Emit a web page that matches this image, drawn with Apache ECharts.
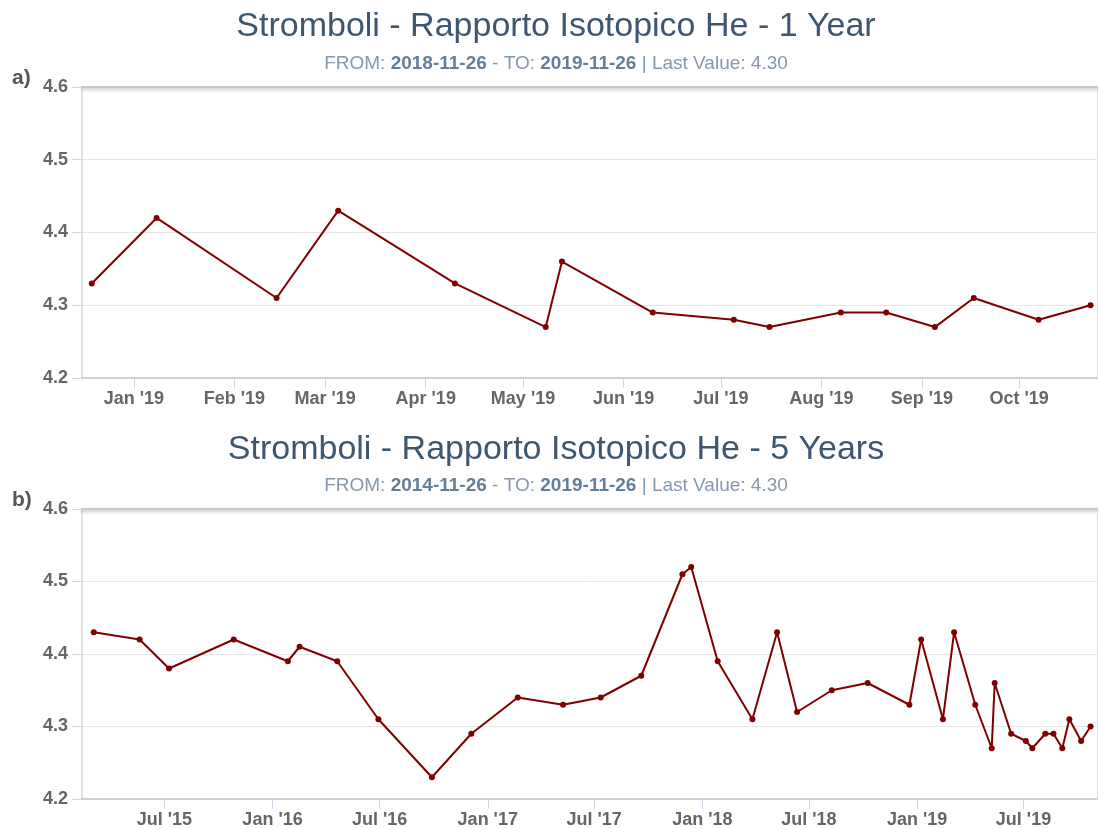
<!DOCTYPE html>
<html>
<head>
<meta charset="utf-8">
<title>Stromboli - Rapporto Isotopico He</title>
<script src="https://cdn.jsdelivr.net/npm/echarts@6/dist/echarts.min.js"></script>
<style>
    html, body { margin: 0; padding: 0; background: #fff; }
    #chart { width: 1099px; height: 829px; }
</style>
</head>
<body>
<div id="chart"></div>
<script>
// Sample dates and He isotope ratio values
var sampleDates = [
    '2015-03-03', '2015-05-20', '2015-07-09', '2015-10-27', '2016-01-27', '2016-02-16',
    '2016-04-20', '2016-06-29', '2016-09-28', '2016-12-04', '2017-02-21', '2017-05-09',
    '2017-07-12', '2017-09-19', '2017-11-28', '2017-12-13', '2018-01-27', '2018-03-27',
    '2018-05-08', '2018-06-11', '2018-08-09', '2018-10-09', '2018-12-19', '2019-01-08',
    '2019-02-14', '2019-03-05', '2019-04-10', '2019-05-08', '2019-05-13', '2019-06-10',
    '2019-07-05', '2019-07-16', '2019-08-07', '2019-08-21', '2019-09-05', '2019-09-17',
    '2019-10-07', '2019-10-23'
];
var heRatio = [
    4.43, 4.42, 4.38, 4.42, 4.39, 4.41,
    4.39, 4.31, 4.23, 4.29, 4.34, 4.33,
    4.34, 4.37, 4.51, 4.52, 4.39, 4.31,
    4.43, 4.32, 4.35, 4.36, 4.33, 4.42,
    4.31, 4.43, 4.33, 4.27, 4.36, 4.29,
    4.28, 4.27, 4.29, 4.29, 4.27, 4.31,
    4.28, 4.30
];

// Tick positions (month starts) for the two date axes
var ticks1Year = ['2019-01-01', '2019-02-01', '2019-03-01', '2019-04-01', '2019-05-01',
    '2019-06-01', '2019-07-01', '2019-08-01', '2019-09-01', '2019-10-01'];
var ticks5Years = ['2015-07-01', '2016-01-01', '2016-07-01', '2017-01-01', '2017-07-01',
    '2018-01-01', '2018-07-01', '2019-01-01', '2019-07-01'];

// Y axis ticks
var yTicks = [4.2, 4.3, 4.4, 4.5, 4.6];

var monthNames = ['Jan', 'Feb', 'Mar', 'Apr', 'May', 'Jun', 'Jul', 'Aug', 'Sep', 'Oct', 'Nov', 'Dec'];

function ts(s) {
    var p = s.split('-');
    return new Date(+p[0], +p[1] - 1, +p[2]).getTime();
}

function monthLabel(v) {
    var d = new Date(v);
    return monthNames[d.getMonth()] + " '" + String(d.getFullYear()).slice(2);
}

var font = "'Liberation Sans', Arial, Helvetica, sans-serif";

// full 5 year series
var data5 = sampleDates.map(function (d, i) { return [ts(d), heRatio[i]]; });
// last year only
var from1 = ts('2018-11-26');
var data1 = data5.filter(function (p) { return p[0] >= from1; });

var chart = echarts.init(document.getElementById('chart'));

// date axis drawn as a value axis on timestamps, ticks at fixed month starts
function bottomAxis(gridIndex, min, max, ticks) {
    var vals = ticks.map(ts);
    return {
        type: 'value',
        gridIndex: gridIndex,
        position: 'bottom',
        min: min,
        max: max,
        axisLine: { show: true, onZero: false, lineStyle: { color: '#c9d0d8', width: 2 } },
        axisTick: { show: true, customValues: vals, length: 10, lineStyle: { color: '#ccd6eb' } },
        axisLabel: {
            customValues: vals,
            formatter: monthLabel,
            margin: 12,
            fontFamily: font,
            fontSize: 18,
            fontWeight: 'bold',
            color: '#666'
        },
        splitLine: { show: false }
    };
}

function topAxis(gridIndex) {
    return {
        type: 'value',
        gridIndex: gridIndex,
        position: 'top',
        min: 0,
        max: 1,
        axisLine: {
            show: true, onZero: false,
            lineStyle: { color: '#c4c9ce', width: 2, shadowColor: 'rgba(0,0,0,0.25)', shadowBlur: 3, shadowOffsetY: 2 }
        },
        axisTick: { show: false },
        axisLabel: { show: false },
        splitLine: { show: false }
    };
}

function leftAxis(gridIndex) {
    return {
        type: 'value',
        gridIndex: gridIndex,
        min: yTicks[0],
        max: yTicks[yTicks.length - 1],
        interval: 0.1,
        axisLine: { show: true, onZero: false, lineStyle: { color: '#dde2e8', width: 2 } },
        axisTick: { show: true, length: 10, lineStyle: { color: '#ccd6eb' } },
        axisLabel: {
            formatter: function (v) { return v.toFixed(1); },
            margin: 14,
            padding: [4, 0, 0, 0],
            fontFamily: font,
            fontSize: 18,
            fontWeight: 'bold',
            color: '#666'
        },
        splitLine: { show: true, lineStyle: { color: '#e6e6e6', width: 1 } }
    };
}

function rightAxis(gridIndex) {
    return {
        type: 'value',
        gridIndex: gridIndex,
        position: 'right',
        min: 0,
        max: 1,
        axisLine: { show: true, onZero: false, lineStyle: { color: '#e2e2e2', width: 1 } },
        axisTick: { show: false },
        axisLabel: { show: false },
        splitLine: { show: false }
    };
}

function titleMain(text, top) {
    return {
        text: text,
        left: 556,
        top: top,
        textAlign: 'center',
        padding: 0,
        textStyle: { fontFamily: font, fontSize: 34, fontWeight: 'normal', color: '#3e5670' }
    };
}

function titleSub(text, top) {
    return {
        text: text,
        left: 556,
        top: top,
        textAlign: 'center',
        padding: 0,
        textStyle: {
            fontFamily: font, fontSize: 19, fontWeight: 'normal', color: '#8599ad',
            rich: { b: { fontFamily: font, fontSize: 19, fontWeight: 'bold', color: '#647f9b' } }
        }
    };
}

function panelLabel(text, top) {
    return {
        text: text,
        left: 12,
        top: top,
        padding: 0,
        textStyle: { fontFamily: font, fontSize: 21, fontWeight: 'bold', color: '#555' }
    };
}

var lineStyle = { color: '#800000', width: 2 };

chart.setOption({
    animation: false,
    backgroundColor: '#fff',
    textStyle: { fontFamily: font },
    title: [
        titleMain('Stromboli - Rapporto Isotopico He - 1 Year', 10),
        titleSub('FROM: {b|2018-11-26} - TO: {b|2019-11-26} | Last Value: 4.30', 54),
        panelLabel('a)', 68),
        titleMain('Stromboli - Rapporto Isotopico He - 5 Years', 433),
        titleSub('FROM: {b|2014-11-26} - TO: {b|2019-11-26} | Last Value: 4.30', 476),
        panelLabel('b)', 490)
    ],
    grid: [
        { left: 82, right: 2, top: 87, height: 291 },
        { left: 82, right: 2, top: 509, height: 291 }
    ],
    xAxis: [
        bottomAxis(0, ts('2018-12-16'), ts('2019-10-25'), ticks1Year),
        topAxis(0),
        bottomAxis(1, ts('2015-02-11'), ts('2019-11-03'), ticks5Years),
        topAxis(1)
    ],
    yAxis: [
        leftAxis(0),
        rightAxis(0),
        leftAxis(1),
        rightAxis(1)
    ],
    series: [
        {
            name: '1 Year',
            type: 'line',
            xAxisIndex: 0,
            yAxisIndex: 0,
            data: data1,
            symbol: 'circle',
            symbolSize: 6,
            lineStyle: lineStyle,
            itemStyle: { color: '#800000' }
        },
        {
            name: '5 Years',
            type: 'line',
            xAxisIndex: 2,
            yAxisIndex: 2,
            data: data5,
            symbol: 'circle',
            symbolSize: 6,
            lineStyle: lineStyle,
            itemStyle: { color: '#800000' }
        }
    ]
});
</script>
</body>
</html>
